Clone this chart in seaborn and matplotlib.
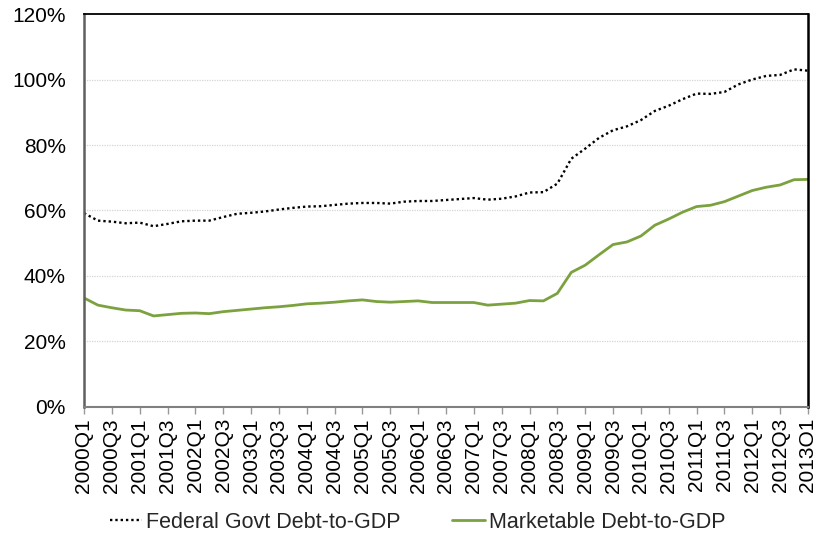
import numpy as np
import pandas as pd
import matplotlib
matplotlib.use("Agg")
import matplotlib.pyplot as plt
import seaborn as sns

# Quarterly periods 2000Q1 .. 2013Q1
quarters = [f"{y}Q{q}" for y in range(2000, 2014) for q in range(1, 5)][:53]

# Federal government debt as % of GDP
federal_debt = [
    59.2, 56.9, 56.6, 56.1, 56.3, 55.2, 55.9, 56.7, 56.9, 56.9,
    58.0, 59.0, 59.3, 59.7, 60.3, 60.8, 61.2, 61.3, 61.7, 62.1,
    62.3, 62.3, 62.1, 62.7, 62.9, 62.9, 63.2, 63.5, 63.8, 63.3,
    63.6, 64.3, 65.5, 65.6, 68.2, 75.8, 78.9, 82.2, 84.5, 85.7,
    87.6, 90.4, 92.0, 94.0, 95.7, 95.6, 96.2, 98.5, 100.0, 101.1,
    101.4, 103.1, 102.7,
]

# Marketable debt as % of GDP
marketable_debt = [
    33.3, 31.1, 30.3, 29.6, 29.4, 27.8, 28.2, 28.6, 28.7, 28.5,
    29.1, 29.5, 29.9, 30.3, 30.6, 31.0, 31.5, 31.7, 32.0, 32.4,
    32.7, 32.2, 32.0, 32.2, 32.4, 31.9, 31.9, 31.9, 31.9, 31.1,
    31.4, 31.7, 32.5, 32.4, 34.7, 41.1, 43.3, 46.5, 49.6, 50.4,
    52.2, 55.5, 57.4, 59.5, 61.2, 61.6, 62.7, 64.4, 66.1, 67.1,
    67.8, 69.4, 69.5,
]

y_ticks = [0, 20, 40, 60, 80, 100, 120]

df = pd.DataFrame({
    "pos": np.arange(len(quarters)),
    "quarter": quarters,
    "federal": federal_debt,
    "marketable": marketable_debt,
})

sns.set_theme(style="white")
plt.rcParams["font.family"] = ["Liberation Sans", "DejaVu Sans"]

fig = plt.figure(figsize=(8.13, 5.35), dpi=100)
ax = fig.add_axes([0.1033, 0.2393, 0.8905, 0.7345])

green = "#7BA23F"
sns.lineplot(data=df, x="pos", y="federal", ax=ax, color="black",
             linewidth=1.7, linestyle=(0, (1, 1.25)),
             label="Federal Govt Debt-to-GDP")
sns.lineplot(data=df, x="pos", y="marketable", ax=ax, color=green,
             linewidth=2.0, label="Marketable Debt-to-GDP")

ax.set_xlim(0, len(quarters) - 1)
ax.set_ylim(0, 120)
ax.set_yticks(y_ticks)
ax.set_yticklabels([f"{v}%" for v in y_ticks])
tick_pos = df["pos"][::2]
ax.set_xticks(tick_pos)
ax.set_xticklabels(df["quarter"][::2], rotation=90)
ax.set_xlabel("")
ax.set_ylabel("")

for v in y_ticks[1:-1]:
    ax.axhline(v, color="#D4D4D4", linewidth=0.9, linestyle=(0, (1, 1)), zorder=0)

ax.tick_params(axis="x", which="both", bottom=True, length=5, width=1,
               color="#999999", labelsize=15, pad=3, labelcolor="black")
ax.tick_params(axis="y", left=False, labelsize=15, pad=7, labelcolor="black")

for side in ["top", "right"]:
    ax.spines[side].set_visible(True)
    ax.spines[side].set_color("black")
ax.spines["top"].set_linewidth(1.3)
ax.spines["right"].set_linewidth(1.8)
ax.spines["left"].set_color("#606060")
ax.spines["left"].set_linewidth(1.8)
ax.spines["bottom"].set_color("#808080")
ax.spines["bottom"].set_linewidth(1.5)

ax.get_legend().remove()
handles, labels = ax.get_legend_handles_labels()
fig.legend(handles, labels, loc="center", ncol=2,
           bbox_to_anchor=(0.5135, 0.024), frameon=False, fontsize=15.5,
           handlelength=1.5, handletextpad=0.2, columnspacing=2.4,
           borderpad=0)

fig.savefig("out.png", dpi=100)
